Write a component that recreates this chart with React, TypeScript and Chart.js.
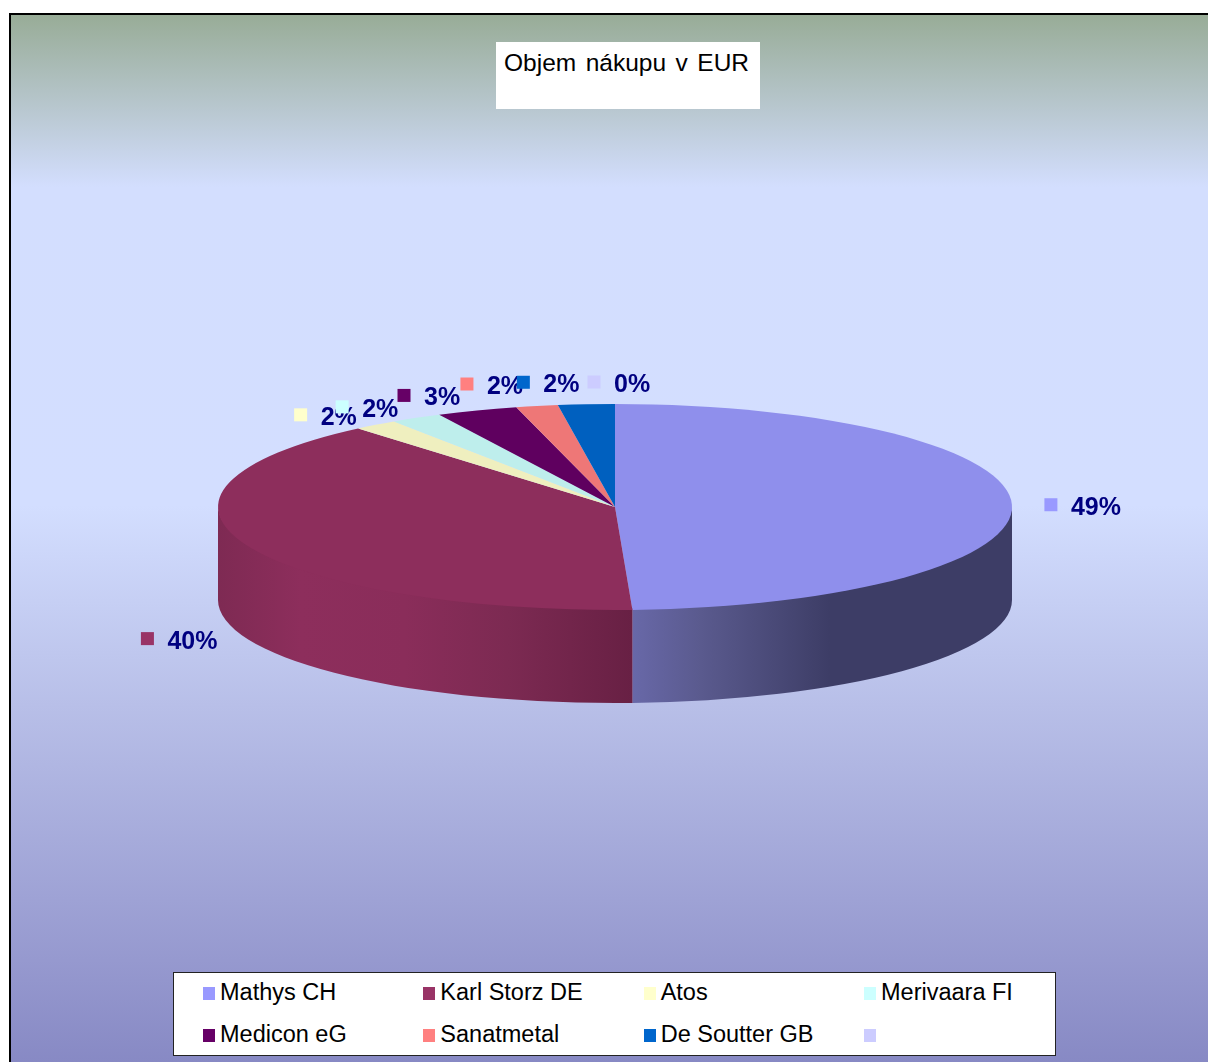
import React, { useEffect, useRef } from "react";
import { Chart, registerables } from "chart.js";

Chart.register(...registerables);

const categories = ["Mathys CH", "Karl Storz DE", "Atos", "Merivaara FI", "Medicon eG", "Sanatmetal", "De Soutter GB", ""];
const shareValues = [49.3, 39.5, 1.8, 2.1, 3.3, 1.7, 2.3, 0];
const topColors = ["#8F8FEC", "#8D2E5C", "#EFEFBF", "#BEEEEC", "#5F005F", "#EE7777", "#0060BF", "#BFBFEE"];
const keyColors = ["#9999FF", "#993366", "#FFFFCC", "#CCFFFF", "#660066", "#FF8080", "#0066CC", "#CCCCFF"];

const FONT = '"Liberation Sans", Arial, sans-serif';
const RADIUS_X = 397;
const RADIUS_Y = 103;
const DEPTH = 93;

const sideGradients: Record<number, [number, string][]> = {
  0: [[0, "#6868A8"], [0.18, "#5A5A8E"], [0.52, "#3D3D66"], [1, "#3D3D66"]],
  1: [[0, "#7E2A53"], [0.2, "#8D2E5C"], [0.45, "#8A2D5A"], [0.7, "#7C2A52"], [1, "#682044"]],
};
const labelOffsets = [[39, 0], [-98, 94], [-75, -10], [-74, -11], [-73, -15], [-70, -22], [-63, -22], [-21, -22]];

const pie3d = {
  id: "pie3d",
  beforeDatasetsDraw(chart: any) {
    const { ctx } = chart;
    const arcs = chart.getDatasetMeta(0).data;
    arcs.forEach((arc: any, i: number) => {
      const stops = sideGradients[i];
      const a0 = Math.max(arc.startAngle, 0);
      const a1 = Math.min(arc.endAngle, Math.PI);
      if (!stops || a1 <= a0) return;
      const xs = [arc.x + RADIUS_X * Math.cos(a0), arc.x + RADIUS_X * Math.cos(a1)];
      const g = ctx.createLinearGradient(Math.min(...xs), 0, Math.max(...xs), 0);
      stops.forEach(([p, c]) => g.addColorStop(p, c));
      ctx.beginPath();
      ctx.ellipse(arc.x, arc.y - 2, RADIUS_X, RADIUS_Y, 0, a0, a1);
      ctx.ellipse(arc.x, arc.y + DEPTH, RADIUS_X, RADIUS_Y, 0, a1, a0, true);
      ctx.closePath();
      ctx.fillStyle = g;
      ctx.fill();
    });
    const { x, y } = arcs[0];
    ctx.save();
    ctx.translate(x, y);
    ctx.scale(1, RADIUS_Y / RADIUS_X);
    ctx.translate(-x, -y);
  },
  afterDatasetsDraw(chart: any) {
    const { ctx } = chart;
    ctx.restore();
    const arcs = chart.getDatasetMeta(0).data;
    const total = shareValues.reduce((a, b) => a + b, 0);
    arcs.forEach((arc: any, i: number) => {
      const mid = (arc.startAngle + arc.endAngle) / 2;
      const px = arc.x + RADIUS_X * Math.cos(mid) + labelOffsets[i][0];
      const py = arc.y + RADIUS_Y * Math.sin(mid) + labelOffsets[i][1];
      ctx.fillStyle = keyColors[i];
      ctx.fillRect(px - 6.5, py - 6.5, 13, 13);
      ctx.fillStyle = "#000080";
      ctx.font = `bold 25px ${FONT}`;
      ctx.textAlign = "left";
      ctx.textBaseline = "middle";
      ctx.fillText(`${Math.round((shareValues[i] / total) * 100)}%`, px + 20, py + 3);
    });
  },
};

export default function App() {
  const ref = useRef<HTMLCanvasElement>(null);
  useEffect(() => {
    const chart = new Chart(ref.current!, {
      type: "pie",
      data: {
        labels: categories,
        datasets: [{ data: shareValues, backgroundColor: topColors, borderWidth: 0, clip: false } as any],
      },
      options: {
        responsive: false,
        animation: false,
        devicePixelRatio: 1,
        radius: RADIUS_X,
        layout: { padding: { left: 22, right: 0, top: 0, bottom: 48 } },
        plugins: { legend: { display: false }, tooltip: { enabled: false }, title: { display: false } },
      } as any,
      plugins: [pie3d],
    });
    return () => chart.destroy();
  }, []);

  return (
    <div style={{ position: "absolute", left: 0, top: 0, width: 1208, height: 1062, overflow: "hidden", background: "#fff", fontFamily: FONT }}>
      <div
        style={{
          position: "absolute", left: 9, top: 13, width: 1300, height: 1100, boxSizing: "border-box",
          borderTop: "2px solid #000", borderLeft: "2px solid #000",
          background: "linear-gradient(to bottom, #98AC97 0px, #D3DEFE 172px, #D3DEFF 490px, #B8BFE8 690px, #9699CF 945px, #8789C4 1049px)",
        }}
      />
      <canvas ref={ref} width={1208} height={1062} style={{ position: "absolute", left: 0, top: 0, display: "block" }} />
      <div
        style={{
          position: "absolute", left: 496, top: 42, width: 264, height: 67, background: "#fff", boxSizing: "border-box",
          padding: "7px 0 0 8px", fontSize: 24.5, lineHeight: "28px", color: "#000", wordSpacing: 2.7, whiteSpace: "nowrap",
        }}
      >
        Objem nákupu v EUR
      </div>
      <div
        style={{
          position: "absolute", left: 173, top: 972, width: 883, height: 84, background: "#fff", boxSizing: "border-box",
          border: "1px solid #222", display: "grid", gridTemplateColumns: "repeat(4, 220.33px)", gridAutoRows: "41.5px",
          paddingLeft: 29, paddingTop: 0,
        }}
      >
        {categories.map((name, i) => (
          <div key={i} style={{ display: "flex", alignItems: "center", fontSize: 23.5, color: "#000", whiteSpace: "nowrap" }}>
            <span style={{ width: 12, height: 13, background: keyColors[i], marginRight: 5, flex: "none" }} />
            <span style={{ position: "relative", top: -1 }}>{name}</span>
          </div>
        ))}
      </div>
    </div>
  );
}
